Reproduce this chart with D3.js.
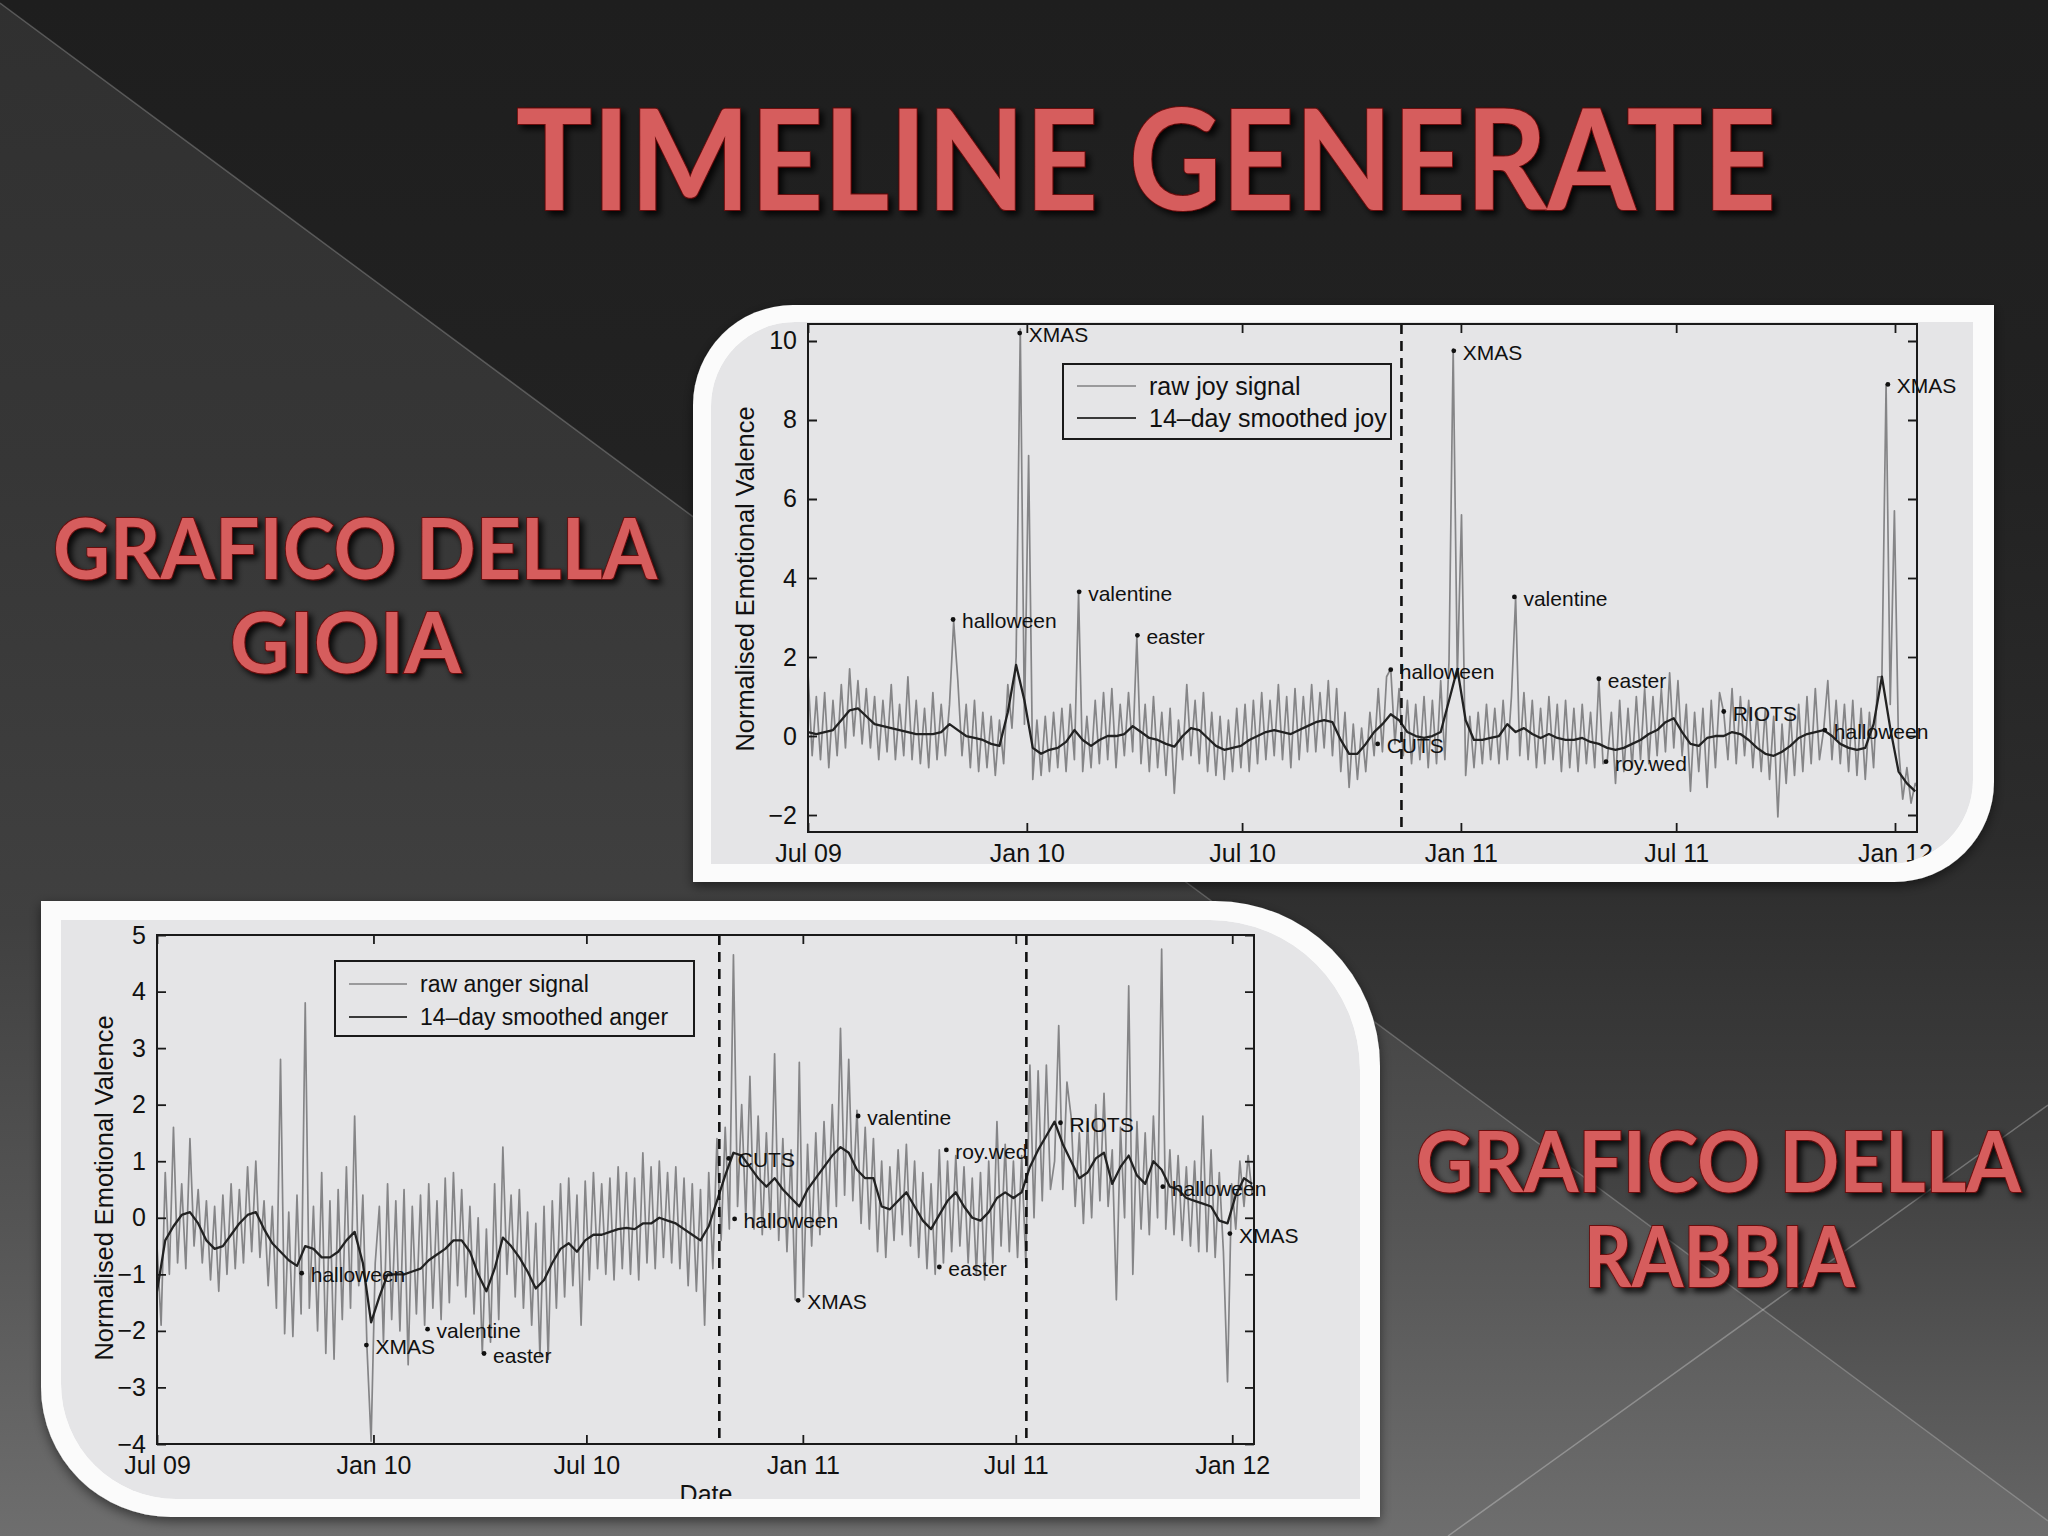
<!DOCTYPE html>
<html><head><meta charset="utf-8">
<script src="https://cdn.jsdelivr.net/npm/d3@7"></script>
<style>html,body{margin:0;padding:0;background:#222;}svg{display:block}</style>
</head><body>
<svg id="slide" width="2048" height="1536"></svg>
<script>
// ---------------- DATA ----------------
const seriesStart = "2009-07-01";
const axisEnd = "2012-01-19";
const rawStepDays = 3.5;      // raw signal: two readings per week
const smoothStepDays = 7;     // smoothed signal: one reading per week
const dateTicks = ["2009-07-01","2010-01-01","2010-07-01","2011-01-01","2011-07-01","2012-01-01"];
const joyTicks = [-2,0,2,4,6,8,10];
const angerTicks = [-4,-3,-2,-1,0,1,2,3,4,5];

const joyRaw = [
 1.6,-0.5, 1.0,-0.6, 1.1,-0.8, 0.9,-0.5, 1.3,-0.3, 1.7,0.0, 1.4,-0.2, 1.2,-0.3,
 1.0,-0.6, 0.9,-0.4, 1.3,-0.6, 0.8,-0.5, 1.5,-0.6, 0.9,-0.7, 0.7,-0.8, 1.1,-0.6,
 0.8,-0.5, 0.8,2.9, 1.4,-0.5, 0.8,-0.8, 0.9,-0.9, 0.6,-0.8, 0.5,-1.0, 0.4,-0.7,
 1.3,0.2, 2.0,10.3, 0.3,7.1, -1.1,0.4, -1.0,0.5, -0.9,0.6, -0.8,0.7, -0.9,0.8,
 -0.6,3.6, -0.9,0.5, -0.8,0.9, -0.7,1.1, -0.6,1.2, -0.8,0.8, -0.5,1.1, -0.4,2.5,
 -0.7,0.8, -0.9,1.0, -0.8,0.6, -1.0,0.7, -1.45,0.4, -0.6,1.3, -0.5,0.9, -0.7,1.1,
 -0.9,0.6, -1.0,0.5, -1.1,0.4, -0.9,0.7, -0.8,0.8, -0.9,0.9, -0.7,1.1, -0.6,0.9,
 -0.5,1.3, -0.6,1.0, -0.8,1.2, -0.6,1.0, -0.4,1.3, -0.4,1.1, -0.3,1.4, -0.5,1.2,
 -0.9,0.6, -1.3,0.3, -1.1,0.2, -0.9,0.6, -0.5,1.2, -0.4,1.5, 1.7,-0.2, 1.2,-0.5,
 0.9,-0.7, 0.8,-0.6, 1.0,-0.8, 0.9,-0.7, 1.4,-0.6, 1.9,9.8, 1.5,5.6, -1.0,0.5,
 -0.8,0.6, -0.7,0.8, -0.6,0.7, -0.7,0.9, -0.6,1.0, 3.5,-0.5, 1.1,-0.6, 0.9,-0.8,
 0.7,-0.7, 1.0,-0.6, 0.8,-0.9, 0.9,-0.8, 0.7,-0.9, 0.8,-0.7, 0.6,-0.8, 1.45,-0.7,
 -0.65,0.6, -1.2,0.9, -0.9,0.7, -0.8,1.0, -0.6,1.2, -0.7,1.0, -0.5,1.2, -0.4,1.6,
 -0.3,1.4, -0.5,0.8, -1.4,0.6, -0.9,0.7, -1.3,0.9, -0.8,1.1, 0.6,-0.6, 1.2,-0.7,
 1.0,-0.5, 0.9,-0.8, 0.6,-0.9, 0.7,-1.1, 0.5,-2.05, 0.3,-1.2, 0.6,-1.0, 0.8,-0.9,
 1.0,-0.7, 1.2,-0.6, 0.15,1.4, -0.6,0.9, -0.7,0.8, -0.9,0.9, -1.0,0.7, -1.1,0.6,
 -0.8,1.5, 1.5,8.9, 0.8,5.7, -0.3,-1.6, -0.8,-1.7, -1.2,-1.4
];
const joySmooth = [
 0.1,0.05,0.1,0.15,0.4,0.65,0.7,0.5,0.3,0.25,
 0.2,0.15,0.1,0.05,0.05,0.05,0.1,0.3,0.15,0.0,
 -0.05,-0.1,-0.2,-0.25,0.6,1.8,0.9,-0.3,-0.45,-0.35,
 -0.3,-0.15,0.15,-0.1,-0.25,-0.1,0.0,0.0,0.05,0.25,
 0.1,-0.05,-0.1,-0.2,-0.27,0.0,0.2,0.15,-0.05,-0.25,
 -0.35,-0.3,-0.25,-0.1,0.0,0.1,0.15,0.1,0.05,0.15,
 0.25,0.35,0.4,0.35,-0.1,-0.45,-0.45,-0.2,0.1,0.3,
 0.55,0.4,0.1,0.0,-0.05,0.0,0.1,0.9,1.7,0.4,
 -0.1,-0.1,-0.05,0.0,0.3,0.1,0.2,0.05,-0.05,0.05,
 -0.05,-0.1,-0.1,-0.05,-0.15,-0.2,-0.3,-0.35,-0.3,-0.2,
 -0.1,0.05,0.15,0.35,0.45,0.1,-0.2,-0.25,-0.05,0.0,
 0.0,0.1,0.05,-0.1,-0.3,-0.45,-0.5,-0.4,-0.25,-0.05,
 0.05,0.1,0.15,0.0,-0.2,-0.3,-0.35,-0.3,0.3,1.5,
 0.2,-0.9,-1.2,-1.4
];
const angerRaw = [
 -0.5,-1.9, 0.8,-1.0, 1.6,-0.8, 0.6,-0.9, 1.4,-0.5, 0.5,-0.8, 0.3,-1.1, 0.2,-1.3,
 0.4,-1.0, 0.6,-0.9, 0.5,-0.8, 0.9,-0.6, 1.0,-0.7, 0.3,-1.2, 0.2,-1.6, 2.8,-2.05,
 0.1,-2.1, 0.4,-1.7, 3.8,-1.6, 0.2,-2.0, 0.8,-2.4, 0.3,-2.5, 0.5,-1.8, 0.9,-1.6,
 1.8,-1.2, 0.4,-2.3, -3.95,-0.8, 0.2,-2.2, 0.6,-1.8, 0.3,-2.0, 0.5,-2.6, 0.2,-1.7,
 0.4,-1.9, 0.6,-1.6, 0.3,-1.8, 0.7,-1.5, 0.8,-1.2, 0.5,-1.4, 0.2,-1.7, 0.0,-2.4,
 -0.2,-2.2, 0.6,-1.8, 1.25,-1.0, 0.4,-1.4, 0.5,-1.6, 0.1,-1.9, -0.1,-2.45, 0.2,-2.5,
 0.3,-1.6, 0.6,-1.4, 0.7,-1.2, 0.4,-1.9, 0.65,-1.1, 0.8,-0.9, 0.6,-1.0, 0.7,-1.1,
 0.9,-0.9, 0.8,-1.0, 0.7,-1.1, 1.15,-0.8, 0.9,-0.9, 1.0,-0.7, 0.8,-0.8, 0.9,-0.9,
 0.7,-1.2, 0.6,-1.3, 0.5,-1.9, 0.8,-0.9, 1.4,-0.4, 1.6,-0.2, 4.65,0.2, 2.0,0.0,
 2.5,-0.2, 1.8,-0.3, 1.5,-0.2, 2.9,-0.4, 1.4,-0.6, 1.2,-1.45, 2.75,-1.4, 1.3,-0.5,
 1.5,-0.3, 1.7,0.0, 2.0,0.2, 3.35,0.4, 2.8,0.3, 1.9,-0.1, 1.6,-0.2, 1.4,-0.6,
 1.0,-0.7, 0.9,-0.4, 1.2,-0.3, 1.3,-0.5, 1.0,-0.7, 0.8,-0.9, 0.6,-1.0, 1.2,-0.8,
 1.0,-0.6, 1.1,-0.5, 0.9,-0.8, 0.7,-1.0, 0.8,-1.1, 1.0,-0.8, 1.7,-0.5, 1.3,-0.6,
 1.0,-0.7, 1.1,-0.8, 2.7,0.0, 2.6,0.3, 2.7,0.5, 1.0,3.4, 0.5,2.4, 1.8,0.2,
 1.5,-0.1, 1.7,0.0, 2.0,0.3, 2.2,0.2, 1.2,-1.45, 1.6,0.0, 4.1,-1.0, 1.7,-0.2,
 1.5,-0.3, 1.8,0.0, 4.75,-0.2, 1.2,-0.3, 1.1,-0.4, 0.9,-0.5, 1.0,-0.6, 1.8,-0.6,
 1.2,-0.7, 0.8,-0.6, -2.9,0.6, -0.2,1.0, 0.2,1.1, 0.4,0.9
];
const angerSmooth = [
 -1.3,-0.4,-0.15,0.05,0.1,-0.1,-0.4,-0.55,-0.5,-0.3,
 -0.1,0.05,0.1,-0.2,-0.45,-0.6,-0.75,-0.85,-0.5,-0.55,
 -0.7,-0.7,-0.6,-0.4,-0.25,-0.8,-1.85,-1.4,-1.0,-1.0,
 -1.0,-0.95,-0.9,-0.75,-0.65,-0.55,-0.4,-0.4,-0.6,-1.0,
 -1.3,-0.9,-0.35,-0.5,-0.7,-0.95,-1.25,-1.1,-0.8,-0.55,
 -0.45,-0.6,-0.4,-0.3,-0.3,-0.25,-0.2,-0.18,-0.2,-0.1,
 -0.1,0.0,-0.05,-0.1,-0.2,-0.3,-0.4,-0.15,0.3,0.75,
 1.15,1.1,0.9,0.7,0.55,0.7,0.5,0.35,0.2,0.5,
 0.7,0.9,1.1,1.25,1.15,0.85,0.7,0.7,0.2,0.15,
 0.3,0.45,0.2,-0.05,-0.2,0.05,0.3,0.45,0.2,0.0,
 -0.05,0.1,0.35,0.45,0.35,0.45,0.9,1.2,1.45,1.7,
 1.3,1.0,0.7,0.8,1.05,1.15,0.6,0.9,1.1,0.75,
 0.6,1.0,0.85,0.55,0.5,0.35,0.3,0.25,0.2,-0.05,
 -0.1,0.4,0.7,0.6
];
const joyEventDates  = ["2009-10-31","2009-12-26","2010-02-14","2010-04-04","2010-10-23","2010-11-03","2010-12-26","2011-02-15","2011-04-27","2011-05-03","2011-08-10","2011-11-03","2011-12-26"];
const joyEventValues = [2.95,10.2,3.65,2.55,-0.2,1.68,9.75,3.52,1.45,-0.65,0.62,0.15,8.9];
const joyEventLabels = ["halloween","XMAS","valentine","easter","CUTS","halloween","XMAS","valentine","easter","roy.wed","RIOTS","halloween","XMAS"];
const angerEventDates  = ["2009-11-01","2009-12-26","2010-02-16","2010-04-05","2010-10-30","2010-11-04","2010-12-28","2011-02-17","2011-04-27","2011-05-03","2011-08-08","2011-11-03","2011-12-30"];
const angerEventValues = [-0.98,-2.25,-1.97,-2.4,1.05,-0.02,-1.46,1.8,-0.87,1.2,1.68,0.55,-0.28];
const angerEventLabels = ["halloween","XMAS","valentine","easter","CUTS","halloween","XMAS","valentine","easter","roy.wed","RIOTS","halloween","XMAS"];
const joyDashDates = ["2010-11-12"];
const angerDashDates = ["2010-10-22","2011-07-10"];
const joyLegend = ["raw joy signal","14–day smoothed joy"];
const angerLegend = ["raw anger signal","14–day smoothed anger"];

// ---------------- DRAWING ----------------
const svg = d3.select("#slide");
const defs = svg.append("defs");
const parse = d3.utcParse("%Y-%m-%d");
const t0 = parse(seriesStart);
const dayAt = d => new Date(t0.getTime() + d * 864e5);

// background
const bgGrad = defs.append("linearGradient").attr("id","bg").attr("x1",0).attr("y1",0).attr("x2",0).attr("y2",1);
[[0,"#1e1e1e"],[0.3,"#222222"],[0.55,"#2c2c2c"],[0.75,"#3f3f3f"],[1,"#666666"]].forEach(s=>bgGrad.append("stop").attr("offset",s[0]).attr("stop-color",s[1]));
const ltGrad = defs.append("linearGradient").attr("id","lt").attr("x1",0).attr("y1",0).attr("x2",0).attr("y2",1);
[[0,"#303030"],[0.3,"#363636"],[0.6,"#404040"],[0.8,"#555555"],[1,"#6e6e6e"]].forEach(s=>ltGrad.append("stop").attr("offset",s[0]).attr("stop-color",s[1]));
svg.append("rect").attr("width",2048).attr("height",1536).attr("fill","url(#bg)");
svg.append("path").attr("d","M0,3 L2048,1521 L2048,1536 L0,1536 Z").attr("fill","url(#lt)");
svg.append("line").attr("x1",0).attr("y1",3).attr("x2",2048).attr("y2",1521).attr("stroke","rgba(255,255,255,0.22)").attr("stroke-width",1.5);
svg.append("line").attr("x1",2048).attr("y1",1105).attr("x2",1448).attr("y2",1536).attr("stroke","rgba(255,255,255,0.28)").attr("stroke-width",1.5);

// title text shadow
const f = defs.append("filter").attr("id","sh").attr("x","-10%").attr("y","-10%").attr("width","130%").attr("height","140%");
f.append("feDropShadow").attr("dx",4).attr("dy",4).attr("stdDeviation",3).attr("flood-color","#000").attr("flood-opacity",0.85);
const pshadow = defs.append("filter").attr("id","psh").attr("x","-5%").attr("y","-5%").attr("width","110%").attr("height","115%");
pshadow.append("feDropShadow").attr("dx",0).attr("dy",4).attr("stdDeviation",6).attr("flood-color","#000").attr("flood-opacity",0.5);

function heading(txt, x, y, len, size){
  svg.append("text").attr("x",x).attr("y",y).text(txt)
    .attr("font-family","Lato, 'Open Sans', sans-serif").attr("font-weight",700)
    .attr("font-size",size).attr("textLength",len).attr("lengthAdjust","spacingAndGlyphs")
    .attr("fill","#d65d5d").attr("stroke","#6a0c0c").attr("stroke-width",2)
    .attr("paint-order","stroke").attr("filter","url(#sh)");
}
heading("TIMELINE GENERATE", 516, 210, 1260, 140);
heading("GRAFICO DELLA", 53, 579, 604, 84);
heading("GIOIA", 230, 673, 231, 84);
heading("GRAFICO DELLA", 1416, 1192, 605, 84);
heading("RABBIA", 1584, 1287, 271, 84);

function panelPath(b){
  const {x0,y0,x1,y1,tl=0,tr=0,br=0,bl=0} = b;
  return `M${x0+tl},${y0} L${x1-tr},${y0} A${tr},${tr} 0 0 1 ${x1},${y0+tr} L${x1},${y1-br} A${br},${br} 0 0 1 ${x1-br},${y1} L${x0+bl},${y1} A${bl},${bl} 0 0 1 ${x0},${y1-bl} L${x0},${y0+tl} A${tl},${tl} 0 0 1 ${x0+tl},${y0} Z`;
}

function drawChart(c){
  const g = svg.append("g");
  g.append("path").attr("d",panelPath(c.outer)).attr("fill","#fbfbfb").attr("filter","url(#psh)");
  defs.append("clipPath").attr("id",c.id+"-in").append("path").attr("d",panelPath(c.inner));
  const gi = g.append("g").attr("clip-path",`url(#${c.id}-in)`);
  gi.append("path").attr("d",panelPath(c.inner)).attr("fill","#e5e5e7");

  const P = c.plot;
  const x = d3.scaleUtc().domain([t0, new Date(parse(axisEnd).getTime()+12*36e5)]).range([P.x0,P.x1]);
  const y = d3.scaleLinear().domain(c.yDomain).range([P.y1,P.y0]);
  defs.append("clipPath").attr("id",c.id+"-plot").append("rect")
    .attr("x",P.x0).attr("y",P.y0).attr("width",P.x1-P.x0).attr("height",P.y1-P.y0);
  const gp = gi.append("g").attr("clip-path",`url(#${c.id}-plot)`);

  const raw = c.raw.map((v,i)=>({d:dayAt(i*rawStepDays), v}));
  const sm = c.smooth.map((v,i)=>({d:dayAt(i*smoothStepDays), v}));
  const line = d3.line().x(p=>x(p.d)).y(p=>y(p.v));
  gp.append("path").datum(raw).attr("d",line).attr("fill","none").attr("stroke","#858587").attr("stroke-width",1.7).attr("stroke-linejoin","round");
  gp.append("path").datum(sm).attr("d",line).attr("fill","none").attr("stroke","#222").attr("stroke-width",2.3).attr("stroke-linejoin","round");

  // dashed event lines
  gi.selectAll(null).data(c.dashes).join("line")
    .attr("x1",d=>x(parse(d))).attr("x2",d=>x(parse(d))).attr("y1",P.y0).attr("y2",P.y1)
    .attr("stroke","#111").attr("stroke-width",2.6).attr("stroke-dasharray","10,7");

  // axes (inward ticks, box)
  const tickDates = dateTicks.map(parse);
  const fmt = d3.utcFormat("%b %y");
  const axStyle = sel => {
    sel.select(".domain").remove();
    sel.selectAll(".tick line").attr("stroke","#1a1a1a").attr("stroke-width",1.8);
    sel.selectAll(".tick text").attr("fill","#111").attr("font-family","'Liberation Sans', Arial, sans-serif").attr("font-size",25);
  };
  gi.append("g").attr("transform",`translate(0,${P.y1})`)
    .call(d3.axisBottom(x).tickValues(tickDates).tickFormat(fmt).tickSize(-9).tickPadding(12)).call(axStyle);
  gi.append("g").attr("transform",`translate(0,${P.y0})`)
    .call(d3.axisTop(x).tickValues(tickDates).tickFormat("").tickSize(-9)).call(axStyle);
  gi.append("g").attr("transform",`translate(${P.x0},0)`)
    .call(d3.axisLeft(y).tickValues(c.yTicks).tickFormat(d3.format("d")).tickSize(-9).tickPadding(11)).call(axStyle);
  gi.append("g").attr("transform",`translate(${P.x1},0)`)
    .call(d3.axisRight(y).tickValues(c.yTicks).tickFormat("").tickSize(-9)).call(axStyle);
  gi.append("rect").attr("x",P.x0).attr("y",P.y0).attr("width",P.x1-P.x0).attr("height",P.y1-P.y0)
    .attr("fill","none").attr("stroke","#1a1a1a").attr("stroke-width",2);

  // event annotations
  const ev = c.evDates.map((d,i)=>({d:parse(d), v:c.evValues[i], l:c.evLabels[i]}));
  const eg = gi.selectAll(null).data(ev).join("g").attr("transform",e=>`translate(${x(e.d)},${y(e.v)})`);
  eg.append("circle").attr("r",2.4).attr("fill","#111");
  eg.append("text").attr("x",9).attr("y",9).text(e=>e.l)
    .attr("font-family","'Liberation Sans', Arial, sans-serif").attr("font-size",21).attr("fill","#111");

  // legend
  const L = c.legend;
  gi.append("rect").attr("x",L.x).attr("y",L.y).attr("width",L.w).attr("height",L.h)
    .attr("fill","#e5e5e7").attr("stroke","#1a1a1a").attr("stroke-width",2);
  c.legendLabels.forEach((t,i)=>{
    const ry = L.rows[i];
    gi.append("line").attr("x1",L.lx0).attr("x2",L.lx1).attr("y1",ry).attr("y2",ry)
      .attr("stroke", i===0 ? "#9a9a9c" : "#3a3a3a").attr("stroke-width", i===0 ? 1.8 : 2.2);
    gi.append("text").attr("x",L.tx).attr("y",ry+L.fs*0.36).text(t)
      .attr("font-family","'Liberation Sans', Arial, sans-serif").attr("font-size",L.fs).attr("fill","#111");
  });

  // axis titles
  gi.append("text").attr("transform",`translate(${c.ylab.x},${c.ylab.y}) rotate(-90)`)
    .attr("text-anchor","middle").attr("dominant-baseline","central").text("Normalised Emotional Valence")
    .attr("font-family","'Liberation Sans', Arial, sans-serif").attr("font-size",25)
    .attr("textLength",345).attr("lengthAdjust","spacingAndGlyphs").attr("fill","#111");
  if (c.xlab) {
    gi.append("text").attr("x",c.xlab.x).attr("y",c.xlab.y).attr("text-anchor","middle").text("Date")
      .attr("font-family","'Liberation Sans', Arial, sans-serif").attr("font-size",25).attr("fill","#111");
  }
}

drawChart({
  id:"joy",
  outer:{x0:693,y0:305,x1:1994,y1:882,tl:100,br:100},
  inner:{x0:711,y0:322,x1:1973,y1:864,tl:84,br:84},
  plot:{x0:808,x1:1917,y0:324,y1:832},
  yDomain:[-2.43,10.43], yTicks:joyTicks,
  raw:joyRaw, smooth:joySmooth,
  evDates:joyEventDates, evValues:joyEventValues, evLabels:joyEventLabels,
  dashes:joyDashDates,
  legend:{x:1063,y:364,w:328,h:75,rows:[386,418],lx0:1077,lx1:1136,tx:1149,fs:25},
  legendLabels:joyLegend,
  ylab:{x:745,y:579}
});
drawChart({
  id:"anger",
  outer:{x0:41,y0:901,x1:1380,y1:1517,tr:165,bl:130},
  inner:{x0:61,y0:920,x1:1360,y1:1499,tr:150,bl:115},
  plot:{x0:157,x1:1254,y0:935,y1:1444},
  yDomain:[-4,5], yTicks:angerTicks,
  raw:angerRaw, smooth:angerSmooth,
  evDates:angerEventDates, evValues:angerEventValues, evLabels:angerEventLabels,
  dashes:angerDashDates,
  legend:{x:335,y:961,w:359,h:75,rows:[984,1017],lx0:349,lx1:407,tx:420,fs:23},
  legendLabels:angerLegend,
  ylab:{x:104,y:1188},
  xlab:{x:706,y:1503}
});
</script>
</body></html>
